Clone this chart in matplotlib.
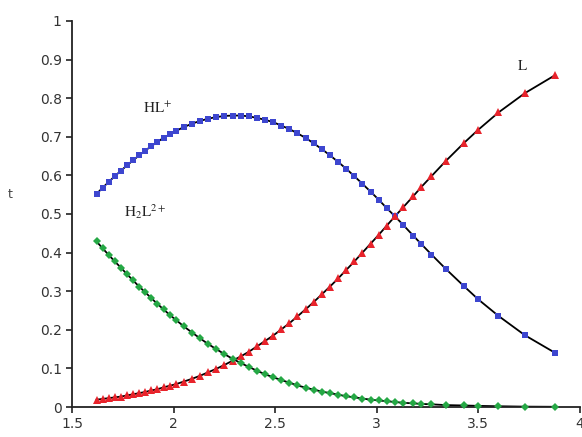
import matplotlib
matplotlib.use("Agg")
import matplotlib.pyplot as plt

# pH-like x values of the data points
x = [1.62, 1.65, 1.68, 1.71, 1.74, 1.77, 1.80, 1.83, 1.86, 1.89, 1.92, 1.95,
     1.98, 2.01, 2.05, 2.09, 2.13, 2.17, 2.21, 2.25, 2.29, 2.33, 2.37, 2.41,
     2.45, 2.49, 2.53, 2.57, 2.61, 2.65, 2.69, 2.73, 2.77, 2.81, 2.85, 2.89,
     2.93, 2.97, 3.01, 3.05, 3.09, 3.13, 3.18, 3.22, 3.27, 3.34, 3.43, 3.50,
     3.60, 3.73, 3.88]

# fraction of H2L2+
h2l = [0.429, 0.411, 0.394, 0.377, 0.361, 0.344, 0.328, 0.312, 0.297, 0.282,
       0.267, 0.253, 0.239, 0.226, 0.209, 0.193, 0.178, 0.163, 0.150, 0.137,
       0.125, 0.114, 0.104, 0.094, 0.085, 0.077, 0.070, 0.063, 0.056, 0.050,
       0.045, 0.040, 0.036, 0.032, 0.028, 0.025, 0.022, 0.019, 0.017, 0.015,
       0.013, 0.011, 0.0095, 0.008, 0.007, 0.005, 0.004, 0.003, 0.002, 0.001,
       0.0006]

# fraction of HL+
hl = [0.552, 0.568, 0.583, 0.598, 0.612, 0.626, 0.639, 0.652, 0.664, 0.676,
      0.687, 0.697, 0.706, 0.715, 0.725, 0.734, 0.741, 0.747, 0.751, 0.754,
      0.755, 0.755, 0.753, 0.749, 0.744, 0.738, 0.729, 0.720, 0.709, 0.697,
      0.683, 0.668, 0.652, 0.635, 0.617, 0.598, 0.578, 0.558, 0.537, 0.515,
      0.494, 0.472, 0.444, 0.422, 0.395, 0.358, 0.313, 0.279, 0.236, 0.186,
      0.140]

# fraction of L
lf = [0.019, 0.021, 0.023, 0.025, 0.027, 0.030, 0.033, 0.036, 0.039, 0.043,
      0.046, 0.051, 0.055, 0.059, 0.066, 0.073, 0.081, 0.090, 0.099, 0.109,
      0.120, 0.131, 0.143, 0.157, 0.171, 0.185, 0.201, 0.217, 0.235, 0.253,
      0.272, 0.292, 0.312, 0.333, 0.355, 0.377, 0.400, 0.423, 0.446, 0.470,
      0.494, 0.517, 0.546, 0.570, 0.598, 0.637, 0.684, 0.718, 0.763, 0.813,
      0.860]

x_ticks = [1.5, 2, 2.5, 3, 3.5, 4]
x_tick_labels = ["1.5", "2", "2.5", "3", "3.5", "4"]
y_ticks = [0, 0.1, 0.2, 0.3, 0.4, 0.5, 0.6, 0.7, 0.8, 0.9, 1]
y_tick_labels = ["0", "0.1", "0.2", "0.3", "0.4", "0.5", "0.6", "0.7", "0.8", "0.9", "1"]

plt.rcParams['mathtext.fontset'] = 'stix'

fig = plt.figure(figsize=(5.82, 4.37), dpi=100)
ax = fig.add_axes([0.124, 0.0686, 0.872, 0.8834])

blue = '#3d46cf'
red = '#e8232b'
green = '#25a845'

for ys, col, mk, ms in [(hl, blue, 's', 5.0), (lf, red, '^', 6.0), (h2l, green, 'D', 4.2)]:
    ax.plot(x, ys, color='black', lw=1.3, zorder=2)
    ax.plot(x, ys, linestyle='none', marker=mk, color=col, markersize=ms,
            markeredgewidth=0, zorder=3, clip_on=False)

ax.set_xlim(1.5, 4)
ax.set_ylim(0, 1)
ax.set_xticks(x_ticks)
ax.set_xticklabels(x_tick_labels)
ax.set_yticks(y_ticks)
ax.set_yticklabels(y_tick_labels)

for s in ['top', 'right']:
    ax.spines[s].set_visible(False)
for s in ['left', 'bottom']:
    ax.spines[s].set_linewidth(1.3)
    ax.spines[s].set_color('#222222')
ax.tick_params(direction='out', length=4, width=1.2, colors='#222222',
               labelsize=10, labelcolor='#333333')

serif = 'Liberation Serif'
ax.text(1.92, 0.775, r'$\mathrm{HL}^{+}$', fontsize=11, ha='center', va='center', color='#222222')
ax.text(1.86, 0.505, r'$\mathrm{H_{2}L}^{2+}$', fontsize=11, ha='center', va='center', color='#222222')
ax.text(3.72, 0.885, r'$\mathrm{L}$', fontsize=11, ha='center', va='center', color='#222222')

fig.text(10 / 582, 1 - 195 / 437, 't', fontsize=9, color='#444444', ha='center', va='center')

fig.savefig('out.png', dpi=100)
